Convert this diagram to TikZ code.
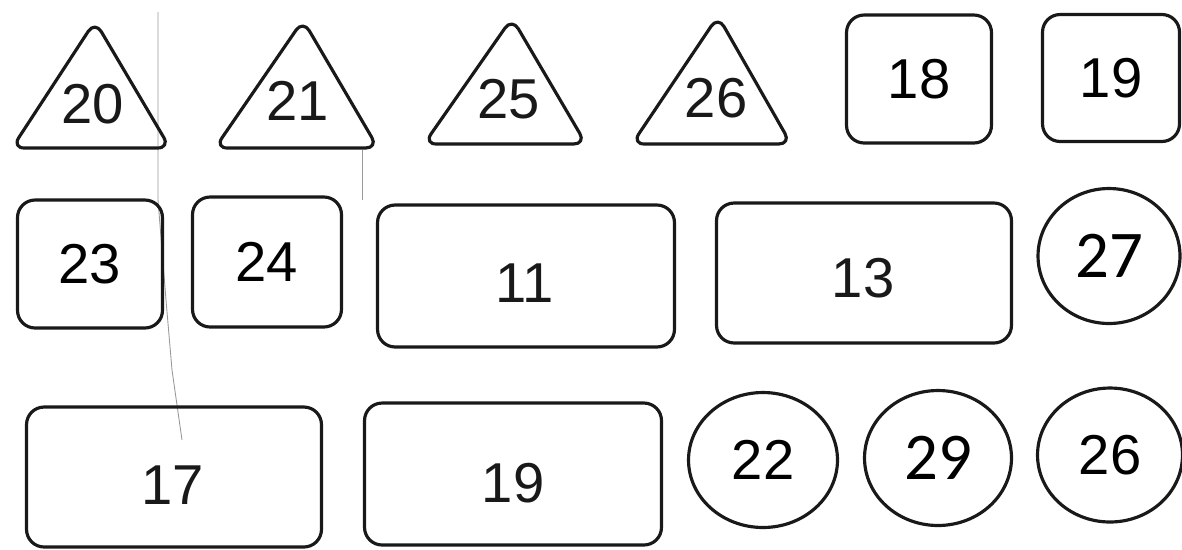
\documentclass[tikz,border=0pt]{standalone}
\usepackage{fontspec}
\setmainfont{Liberation Sans}
\newfontfamily\pastefont{Carlito}
\usetikzlibrary{shapes.geometric}
\newcommand{\numfont}{\fontsize{32}{32}\selectfont}
\newcommand{\pastenum}{\pastefont\fontsize{38}{38}\selectfont}
\definecolor{InkBlack}{RGB}{25,25,25}
\tikzset{
  outline/.style={draw=InkBlack,line width=1.8pt},
  box/.style={outline,rectangle,rounded corners=10pt,inner sep=0pt,font=\numfont},
  ring/.style={outline,ellipse,inner sep=0pt,font=\numfont},
  tri/.style={outline,rounded corners=7pt,line join=round},
  num/.style={font=\numfont,text=InkBlack},
  pencil/.style={draw=black!40,line width=0.5pt},
}

\begin{document}
\begin{tikzpicture}[x=0.02cm,y=-0.02cm]
\useasboundingbox (0,0) rectangle (1182,549);
% faint pencil marks
\draw[pencil] (158,12) -- (158,200) -- (166,300) -- (172,370) -- (182,440);
\draw[pencil] (362,150) -- (362,200);
% top row: triangles
\foreach \n/\ax/\ay/\lx/\rx/\by/\tx/\ty in
  {20/95/21/12/170/148/93/104, 21/303/20/215/378/148/298/101,
   25/512/18/424/586/144/509/99, 26/718/16/632/791/144/716/98}{
  \draw[tri] (\ax,\ay) -- (\rx,\by) -- (\lx,\by) -- cycle;
  \node[num] (tri\n) at (\tx,\ty) {\n};
}
\node[box,minimum width=2.9cm,minimum height=2.56cm] (sq18) at (919,79) {18};
\node[box,minimum width=2.74cm,minimum height=2.54cm] (sq19) at (1111,78) {19};
% middle row
\node[box,minimum width=2.9cm,minimum height=2.56cm] (sq23) at (90,264) {23};
\node[box,minimum width=2.98cm,minimum height=2.6cm] (sq24) at (267,262) {24};
\node[box,minimum width=5.94cm,minimum height=2.84cm] (rect11) at (526,276) {};
\node[num] (lab11) at (525,283) {11};
\node[box,minimum width=5.9cm,minimum height=2.8cm] (rect13) at (864,273) {};
\node[num] (lab13) at (863,278) {13};
\node[ring,minimum width=2.84cm,minimum height=2.7cm,font=\pastenum] (circ27) at (1109,256) {27};
% bottom row
\node[box,minimum width=5.9cm,minimum height=2.8cm] (rect17) at (174,477) {};
\node[num] (lab17) at (173,485) {17};
\node[box,minimum width=5.94cm,minimum height=2.84cm] (rect19) at (513,474) {};
\node[num] (lab19) at (513,483) {19};
\node[ring,minimum width=2.98cm,minimum height=2.7cm] (circ22) at (763,460) {22};
\node[ring,minimum width=2.94cm,minimum height=2.7cm,font=\pastenum] (circ29) at (938,458) {29};
\node[ring,minimum width=2.9cm,minimum height=2.68cm] (circ26) at (1110,455) {26};
\end{tikzpicture}
\end{document}
